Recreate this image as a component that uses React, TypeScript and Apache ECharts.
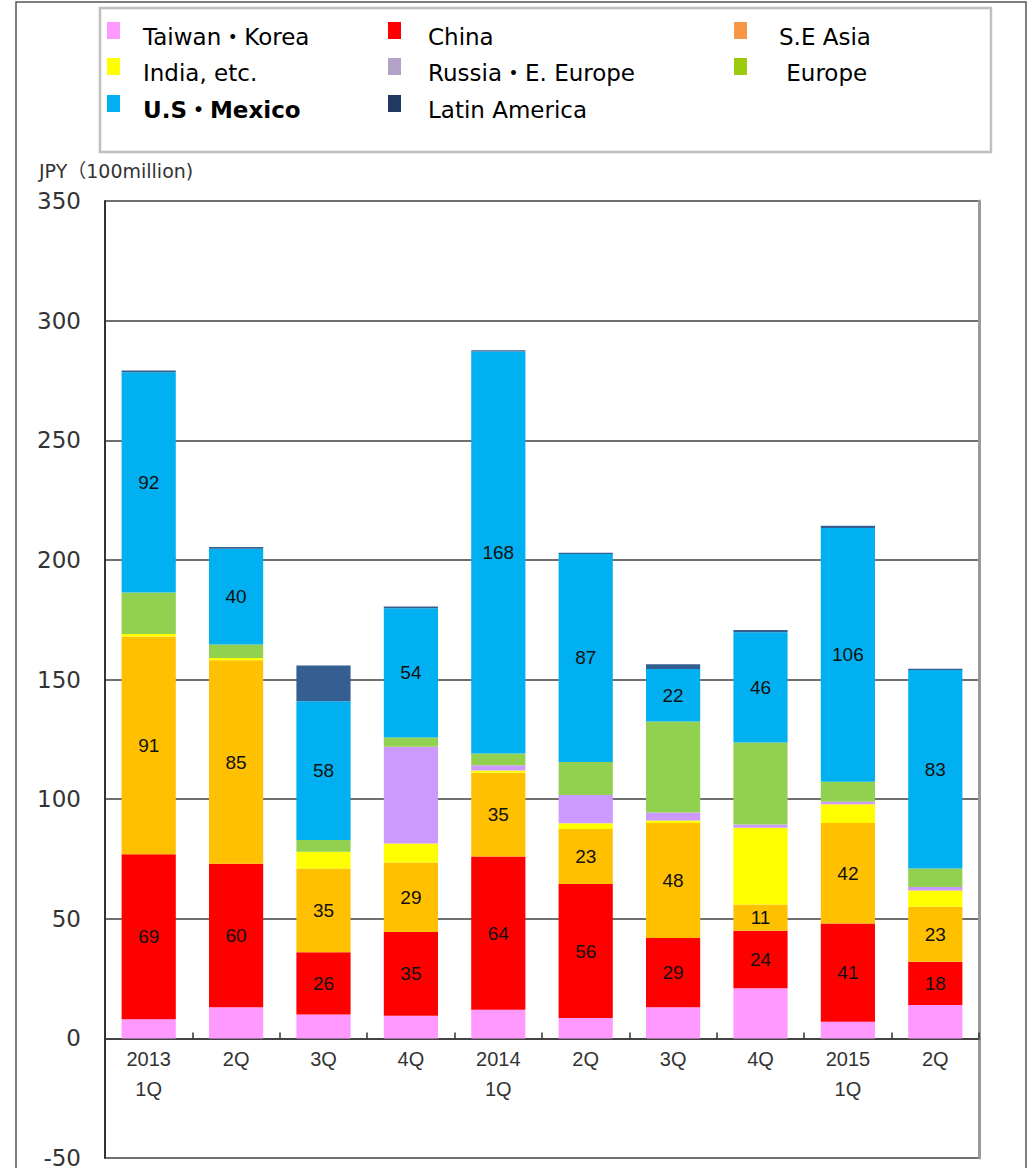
import React, { useEffect, useRef } from "react";
import * as echarts from "echarts";

const categories = ["2013\n1Q", "2Q", "3Q", "4Q", "2014\n1Q", "2Q", "3Q", "4Q", "2015\n1Q", "2Q"];

const taiwanKorea = [8, 13, 10, 9.5, 12, 8.5, 13, 21, 7, 14];
const china = [69, 60, 26, 35, 64, 56, 29, 24, 41, 18];
const seAsia = [91, 85, 35, 29, 35, 23, 48, 11, 42, 23];
const india = [1, 1, 7, 8, 1, 2.4, 1.1, 32, 7.9, 6.8];
const russia = [0, 0, 0, 40.4, 2.2, 11.8, 3.3, 1.4, 1, 1.5];
const europe = [17.4, 5.6, 4.9, 3.9, 4.9, 13.8, 38, 34.3, 8.4, 7.7];
const usMexico = [92, 40, 58, 54, 168, 87, 22, 46, 106, 83];
const latinAmerica = [0.8, 0.8, 15, 0.7, 0.5, 0.5, 2, 1, 1, 0.5];

const yMin = -50;
const yMax = 350;
const yInterval = 50;
const yAxisTitle = "JPY（100million)";

const seriesNames = [
  "Taiwan・Korea",
  "China",
  "S.E Asia",
  "India, etc.",
  "Russia・E. Europe",
  "Europe",
  "U.S・Mexico",
  "Latin America",
];
const seriesData = [taiwanKorea, china, seAsia, india, russia, europe, usMexico, latinAmerica];
const barColors = ["#FF99FF", "#FF0000", "#FFC000", "#FFFF00", "#CC99FF", "#92D050", "#00B0F0", "#365F91"];
const legendColors = ["#FF99FF", "#FF0000", "#F79646", "#FFFF00", "#B3A2C7", "#9BCB0C", "#00B0F0", "#1F3864"];
const labelled = [false, true, true, false, false, false, true, false];
const legendCol = [0, 1, 2, 0, 1, 2, 0, 1];
const legendRow = [0, 0, 0, 1, 1, 1, 2, 2];
const legendBold = [false, false, false, false, false, false, true, false];
const legendLeadingSpace = [false, false, false, false, false, true, false, false];

export default function App() {
  const ref = useRef<HTMLDivElement>(null);

  useEffect(() => {
    if (!ref.current) return;
    const chart = echarts.init(ref.current, null, { renderer: "svg" });

    const gridTop = 201;
    const gridHeight = 957;
    // distance from the bottom of the grid (the minimum) up to the zero line
    const zeroOffset = (gridHeight * (0 - yMin)) / (yMax - yMin);

    const colMarkerX = [107, 388, 734];
    const colTextX = [143, 428, 779];
    const rowY = [37, 73, 110];

    const legendGraphics: any[] = [];
    seriesNames.forEach((name, i) => {
      const c = legendCol[i];
      const r = legendRow[i];
      legendGraphics.push({
        type: "rect",
        shape: { x: colMarkerX[c], y: rowY[r] - 15, width: 13, height: 17 },
        style: { fill: legendColors[i] },
        silent: true,
      });
      legendGraphics.push({
        type: "text",
        x: colTextX[c],
        y: rowY[r],
        style: {
          text: (legendLeadingSpace[i] ? " " : "") + name,
          fill: "#000",
          font: `${legendBold[i] ? "bold " : ""}23px "DejaVu Sans", "Noto Sans CJK JP", sans-serif`,
          verticalAlign: "middle",
          align: "left",
        },
        silent: true,
      });
    });

    const option: any = {
      animation: false,
      backgroundColor: "#fff",
      grid: {
        left: 105,
        top: gridTop,
        width: 874,
        height: gridHeight,
        containLabel: false,
        outerBoundsMode: "none",
      },
      xAxis: {
        type: "category",
        data: categories,
        position: "bottom",
        offset: -zeroOffset,
        axisLine: { onZero: false, lineStyle: { color: "#333", width: 1.5 } },
        axisTick: { show: true, inside: true, length: 6, lineStyle: { color: "#333", width: 1.5 } },
        axisLabel: {
          color: "#333",
          fontSize: 20,
          fontFamily: "Liberation Sans, Arial, sans-serif",
          lineHeight: 30,
          margin: 6,
        },
        splitLine: { show: false },
      },
      yAxis: [
        {
          type: "value",
          min: yMin,
          max: yMax,
          interval: yInterval,
          axisLine: { show: true, lineStyle: { color: "#333", width: 2 } },
          axisTick: { show: false },
          axisLabel: {
            color: "#333",
            fontSize: 23,
            fontFamily: "DejaVu Sans, sans-serif",
            margin: 24,
          },
          splitLine: { show: true, lineStyle: { color: "#404040", width: 1.5 } },
        },
        {
          type: "value",
          min: yMin,
          max: yMax,
          interval: yInterval,
          position: "right",
          axisLine: { show: true, lineStyle: { color: "#999", width: 3 } },
          axisTick: { show: false },
          axisLabel: { show: false },
          splitLine: { show: false },
        },
      ],
      series: seriesNames.map((name, i) => ({
        name,
        type: "bar",
        stack: "total",
        data: seriesData[i],
        barCategoryGap: "38%",
        itemStyle: { color: barColors[i] },
        label: {
          show: labelled[i],
          position: "inside",
          color: "#111",
          fontSize: 19,
          fontFamily: "Liberation Sans, Arial, sans-serif",
          formatter: "{c}",
        },
      })),
      graphic: [
        {
          type: "rect",
          shape: { x: 16, y: 2, width: 1010, height: 1190 },
          style: { fill: "none", stroke: "#555", lineWidth: 1.5 },
          silent: true,
          z: -10,
        },
        {
          type: "rect",
          shape: { x: 100, y: 8, width: 891, height: 144 },
          style: { fill: "#fff", stroke: "#c0c0c0", lineWidth: 2.5 },
          silent: true,
        },
        ...legendGraphics,
        {
          type: "text",
          x: 39,
          y: 171,
          style: {
            text: yAxisTitle,
            fill: "#333",
            font: '19px "DejaVu Sans", "Noto Sans CJK JP", sans-serif',
            verticalAlign: "middle",
          },
          silent: true,
        },
      ],
    };

    chart.setOption(option);
    return () => chart.dispose();
  }, []);

  return (
    <div
      ref={ref}
      style={{ position: "absolute", left: 0, top: 0, width: 1027, height: 1168, background: "#fff" }}
    />
  );
}
